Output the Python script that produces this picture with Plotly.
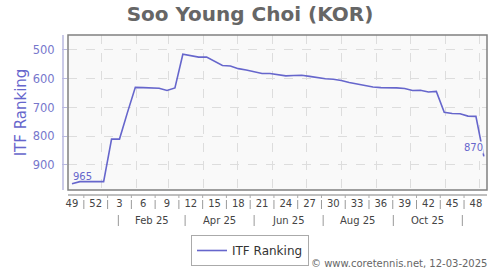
import plotly.graph_objects as go
import pandas as pd

TITLE = "Soo Young Choi (KOR)"
SERIES_NAME = "ITF Ranking"
START_DATE = "2024-12-06"
RANKING = [965, 958, 958, 958, 958, 810, 810, 718, 630, 631, 632, 633, 641, 632,
           515, 520, 525, 525, 540, 554, 556, 565, 570, 576, 582, 582, 586, 590,
           589, 588, 592, 597, 600, 602, 606, 613, 618, 623, 629, 631, 631, 632,
           634, 641, 640, 646, 644, 717, 721, 722, 730, 731, 870]
WEEK_LABELS = ["49", "52", "3", "6", "9", "12", "15", "18", "21", "24", "27",
               "30", "33", "36", "39", "42", "45", "48"]
MONTH_LABELS = ["Feb 25", "Apr 25", "Jun 25", "Aug 25", "Oct 25"]
MONTH_LABEL_DATES = ["2025-02-15", "2025-04-15", "2025-06-15", "2025-08-15", "2025-10-16"]
MONTH_SEP_DATES = ["2025-01-16", "2025-03-16", "2025-05-16", "2025-07-16",
                   "2025-09-16", "2025-11-16"]
Y_TICKS = [500, 600, 700, 800, 900]
FOOTER = "© www.coretennis.net, 12-03-2025"

FONT = "DejaVu Sans"
LINE_COLOR = "#6666cc"
PLOT_BG = "#f9f9f9"

dates = pd.date_range(START_DATE, periods=len(RANKING), freq="7D")
week_tick_dates = dates[::3]
sep_dates = [d + pd.Timedelta(days=10.5) for d in dates[::3]]
month_grid = pd.date_range("2025-01-01", "2025-12-01", freq="MS")

H = 155.0  # plot height in px


def py(px):
    return (190 - px) / H


fig = go.Figure()
fig.add_trace(go.Scatter(
    x=dates, y=RANKING, mode="lines", name=SERIES_NAME,
    line=dict(color=LINE_COLOR, width=1.6),
))

shapes = []
shapes.append(dict(type="rect", xref="paper", yref="paper", x0=0, x1=1, y0=0, y1=1,
                   line=dict(color="#808080", width=1.5), layer="above"))
shapes.append(dict(type="line", xref="paper", yref="paper", x0=-5 / 419, x1=-5 / 419,
                   y0=0, y1=1, line=dict(color="#b8b8e0", width=1.5)))
shapes.append(dict(type="line", xref="paper", yref="paper", x0=0, x1=1,
                   y0=py(195), y1=py(195), line=dict(color="#aaaaaa", width=1.5)))
for d in sep_dates:
    shapes.append(dict(type="line", xref="x", yref="paper", x0=d, x1=d,
                       y0=py(195), y1=py(198), line=dict(color="#aaaaaa", width=1)))
for d in sep_dates[:-1]:
    shapes.append(dict(type="line", xref="x", yref="paper", x0=d, x1=d,
                       y0=py(200), y1=py(209), line=dict(color="#999999", width=1)))
for d in MONTH_SEP_DATES:
    shapes.append(dict(type="line", xref="x", yref="paper", x0=d, x1=d,
                       y0=py(215), y1=py(226), line=dict(color="#999999", width=1)))

annotations = []
for d, t in zip(MONTH_LABEL_DATES, MONTH_LABELS):
    annotations.append(dict(x=d, y=py(220.5), xref="x", yref="paper", text=t,
                            showarrow=False, xanchor="center", yanchor="middle",
                            font=dict(family=FONT, size=10, color="#444444")))
annotations.append(dict(x=dates[0], y=RANKING[0], xref="x", yref="y",
                        text=str(RANKING[0]), showarrow=False, xanchor="left",
                        yanchor="bottom", yshift=1, borderpad=0,
                        font=dict(family=FONT, size=10, color=LINE_COLOR)))
annotations.append(dict(x=dates[-1], y=RANKING[-1], xref="x", yref="y",
                        text=str(RANKING[-1]), showarrow=False, xanchor="right",
                        yanchor="bottom", yshift=2, borderpad=0, bgcolor=PLOT_BG,
                        font=dict(family=FONT, size=10, color=LINE_COLOR)))
annotations.append(dict(x=1.005, y=py(263), xref="paper", yref="paper", text=FOOTER,
                        showarrow=False, xanchor="right", yanchor="middle",
                        font=dict(family=FONT, size=10, color="#666666")))

fig.update_layout(
    width=500, height=270,
    margin=dict(l=68, r=13, t=35, b=80, autoexpand=False),
    paper_bgcolor="white", plot_bgcolor=PLOT_BG,
    title=dict(text="<b>" + TITLE + "</b>", x=0.5, xref="container", xanchor="center",
               y=1 - 14 / 270, yanchor="middle",
               font=dict(family=FONT, size=20, color="#666666")),
    font=dict(family=FONT),
    xaxis=dict(
        type="date", automargin=False,
        range=["2024-12-02 12:00", "2025-12-07 19:00"],
        tickmode="array", tickvals=week_tick_dates, ticktext=WEEK_LABELS,
        ticks="", showgrid=False, showline=False, zeroline=False,
        ticklabelstandoff=6, tickangle=0,
        tickfont=dict(family=FONT, size=10, color="#444444"),
        minor=dict(tickmode="array", tickvals=month_grid, showgrid=True,
                   gridcolor="#dddddd", griddash="dash", gridwidth=1, ticks=""),
    ),
    yaxis=dict(
        automargin=False,
        range=[987, 448], tickmode="array", tickvals=Y_TICKS,
        ticks="outside", ticklen=5, tickcolor="#b8b8e0",
        ticklabelstandoff=5,
        showgrid=True, gridcolor="#dddddd", griddash="dash", gridwidth=1,
        showline=False, zeroline=False,
        tickfont=dict(family=FONT, size=11.5, color="#7777cc"),
        title=dict(text=SERIES_NAME, font=dict(family=FONT, size=15, color="#6666cc"),
                   standoff=2),
    ),
    showlegend=True,
    legend=dict(xref="container", yref="container", x=0.5, y=1 - 235 / 270,
                xanchor="center", yanchor="top", bordercolor="#aaaaaa", borderwidth=1,
                bgcolor="white", itemwidth=30,
                font=dict(family=FONT, size=12, color="#333333")),
    shapes=shapes,
    annotations=annotations,
)

fig.write_html("out.html")
